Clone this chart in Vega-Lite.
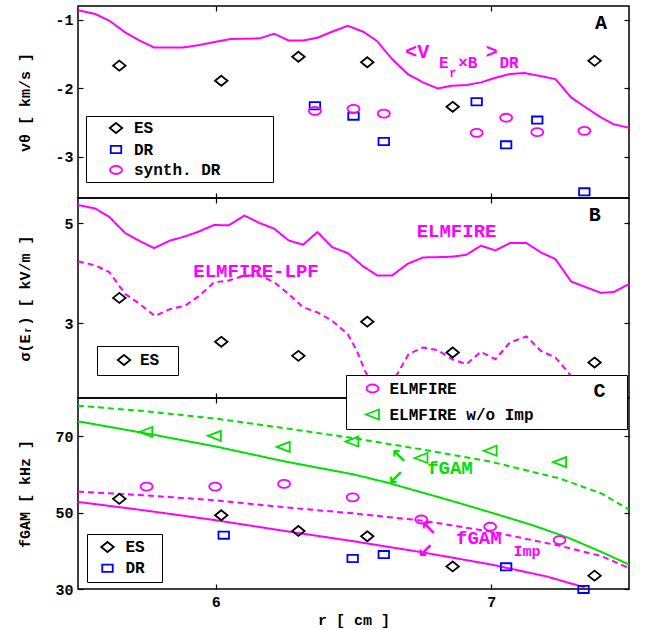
{
"$schema": "https://vega.github.io/schema/vega-lite/v6.json",
"padding": {"left": 16, "top": 4, "right": 4, "bottom": 2},
"spacing": 0,
"bounds": "flush",
"config": {
  "view": {"stroke": "black", "strokeWidth": 1.5},
  "font": "Liberation Mono",
  "axis": {"domain": false, "grid": false, "tickSize": -5, "tickColor": "black", "tickWidth": 1.2,
    "labelFont": "Liberation Mono", "labelFontWeight": "bold", "labelFontSize": 15, "labelColor": "black", "labelPadding": 10,
    "titleFont": "Liberation Mono", "titleFontWeight": "bold", "titleFontSize": 15, "titleColor": "black"},
  "legend": {"labelFont": "Liberation Mono", "labelFontWeight": "bold", "labelFontSize": 16, "labelColor": "black",
    "strokeColor": "black", "fillColor": "white", "symbolSize": 100, "symbolStrokeWidth": 1.8, "orient": "none"}
},
"resolve": {"scale": {"color": "independent", "shape": "independent", "strokeDash": "independent", "x": "independent", "y": "independent"}},
"vconcat": [
{
  "width": 551, "height": 192,
  "resolve": {"axis": {"x": "independent", "y": "independent"}},
  "layer": [
    {
      "data": {"values": [
        {"r":5.5,"v":-0.86},{"r":5.563,"v":-0.917},{"r":5.614,"v":-1.015},{"r":5.671,"v":-1.184},{"r":5.724,"v":-1.306},{"r":5.776,"v":-1.404},{"r":5.881,"v":-1.404},{"r":5.941,"v":-1.369},{"r":6.001,"v":-1.321},{"r":6.054,"v":-1.282},{"r":6.159,"v":-1.272},{"r":6.212,"v":-1.204},{"r":6.264,"v":-1.302},{"r":6.317,"v":-1.302},{"r":6.369,"v":-1.263},{"r":6.422,"v":-1.175},{"r":6.479,"v":-1.088},{"r":6.535,"v":-1.175},{"r":6.584,"v":-1.306},{"r":6.640,"v":-1.574},{"r":6.697,"v":-1.793},{"r":6.752,"v":-1.914},{"r":6.805,"v":-2.002},{"r":6.857,"v":-1.963},{"r":6.910,"v":-1.953},{"r":6.963,"v":-1.914},{"r":7.015,"v":-1.846},{"r":7.068,"v":-1.793},{"r":7.120,"v":-1.778},{"r":7.173,"v":-1.817},{"r":7.233,"v":-1.866},{"r":7.290,"v":-2.133},{"r":7.338,"v":-2.265},{"r":7.398,"v":-2.425},{"r":7.443,"v":-2.523},{"r":7.5,"v":-2.575}
      ]},
      "mark": {"type": "line", "color": "#ff00ff", "strokeWidth": 2, "clip": true},
      "encoding": {
        "x": {"field": "r", "type": "quantitative", "scale": {"domain": [5.5, 7.5], "nice": false, "zero": false}, "axis": {"orient": "top", "values": [6, 7], "labels": false, "title": null}},
        "y": {"field": "v", "type": "quantitative", "scale": {"domain": [-3.6, -0.8], "nice": false, "zero": false}, "axis": {"orient": "right", "values": [-3, -2, -1], "labels": false, "title": null}}
      }
    },
    {
      "data": {"values": [
        {"series":"ES","r":5.65,"v":-1.67},{"series":"ES","r":6.02,"v":-1.89},{"series":"ES","r":6.30,"v":-1.54},{"series":"ES","r":6.55,"v":-1.62},{"series":"ES","r":6.86,"v":-2.27},{"series":"ES","r":7.375,"v":-1.60},
        {"series":"DR","r":6.36,"v":-2.255},{"series":"DR","r":6.50,"v":-2.406},{"series":"DR","r":6.61,"v":-2.775},{"series":"DR","r":6.947,"v":-2.197},{"series":"DR","r":7.054,"v":-2.825},{"series":"DR","r":7.167,"v":-2.464},{"series":"DR","r":7.338,"v":-3.51},
        {"series":"synth. DR","r":6.36,"v":-2.33},{"series":"synth. DR","r":6.50,"v":-2.30},{"series":"synth. DR","r":6.61,"v":-2.37},{"series":"synth. DR","r":6.947,"v":-2.65},{"series":"synth. DR","r":7.054,"v":-2.43},{"series":"synth. DR","r":7.167,"v":-2.64},{"series":"synth. DR","r":7.338,"v":-2.62}
      ]},
      "mark": {"type": "point", "filled": false, "size": 100, "strokeWidth": 1.8, "opacity": 1},
      "encoding": {
        "x": {"field": "r", "type": "quantitative", "scale": {"domain": [5.5, 7.5], "nice": false, "zero": false}, "axis": {"orient": "bottom", "values": [6, 7], "labels": false, "title": null}},
        "y": {"field": "v", "type": "quantitative", "scale": {"domain": [-3.6, -0.8], "nice": false, "zero": false}, "axis": {"orient": "left", "values": [-3, -2, -1], "labelExpr": "'' + datum.value", "title": "vθ [ km/s ]", "titleX": -46}},
        "color": {"field": "series", "type": "nominal", "scale": {"domain": ["ES", "DR", "synth. DR"], "range": ["#000000", "#0000ff", "#ff00ff"]},
          "legend": {"title": null, "orient": "none", "legendX": 8, "legendY": 110, "padding": 4, "rowPadding": 4.5, "symbolOffset": 18, "labelOffset": 10, "labelExpr": "datum.label + '\u2800\u2800\u2800\u2800'"}},
        "shape": {"field": "series", "type": "nominal", "scale": {"domain": ["ES", "DR", "synth. DR"], "range": ["M0,-1L1.25,0L0,1L-1.25,0Z", "M-1.05,-0.72H1.05V0.72H-1.05Z", "M-1.2,0A1.2,0.8,0,1,0,1.2,0A1.2,0.8,0,1,0,-1.2,0Z"]},
          "legend": {"title": null, "orient": "none", "legendX": 8, "legendY": 110, "padding": 4, "rowPadding": 4.5, "symbolOffset": 18, "labelOffset": 10, "labelExpr": "datum.label + '\u2800\u2800\u2800\u2800'"}}
      }
    },
    {
      "data": {"values": [{"r": 7.398, "v": -1.052, "t": "A"}]},
      "mark": {"type": "text", "fontSize": 20, "fontWeight": "bold", "font": "Liberation Mono", "color": "black", "align": "center", "baseline": "middle"},
      "encoding": {"x": {"field": "r", "type": "quantitative", "axis": null}, "y": {"field": "v", "type": "quantitative", "axis": null}, "text": {"field": "t"}}
    },
    {
      "data": {"values": [{"r": 6.688, "v": -1.466, "t": "<V"}, {"r": 6.98, "v": -1.466, "t": ">"}]},
      "mark": {"type": "text", "fontSize": 20, "fontWeight": "bold", "font": "Liberation Mono", "color": "#ff00ff", "align": "left", "baseline": "middle"},
      "encoding": {"x": {"field": "r", "type": "quantitative", "axis": null}, "y": {"field": "v", "type": "quantitative", "axis": null}, "text": {"field": "t"}}
    },
    {
      "data": {"values": [{"r": 6.81, "v": -1.636, "t": "E"}, {"r": 6.88, "v": -1.631, "t": "×B"}, {"r": 7.03, "v": -1.631, "t": "DR"}]},
      "mark": {"type": "text", "fontSize": 16, "fontWeight": "bold", "font": "Liberation Mono", "color": "#ff00ff", "align": "left", "baseline": "middle"},
      "encoding": {"x": {"field": "r", "type": "quantitative", "axis": null}, "y": {"field": "v", "type": "quantitative", "axis": null}, "text": {"field": "t"}}
    },
    {
      "data": {"values": [{"r": 6.848, "v": -1.781, "t": "r"}]},
      "mark": {"type": "text", "fontSize": 12, "fontWeight": "bold", "font": "Liberation Mono", "color": "#ff00ff", "align": "left", "baseline": "middle"},
      "encoding": {"x": {"field": "r", "type": "quantitative", "axis": null}, "y": {"field": "v", "type": "quantitative", "axis": null}, "text": {"field": "t"}}
    }
  ]
},
{
  "width": 551, "height": 200,
  "resolve": {"axis": {"x": "independent", "y": "independent"}},
  "layer": [
    {
      "data": {"values": [
        {"series":"ELMFIRE","r":5.5,"s":5.36},{"series":"ELMFIRE","r":5.563,"s":5.289},{"series":"ELMFIRE","r":5.614,"s":5.12},{"series":"ELMFIRE","r":5.671,"s":4.799},{"series":"ELMFIRE","r":5.724,"s":4.639},{"series":"ELMFIRE","r":5.776,"s":4.498},{"series":"ELMFIRE","r":5.836,"s":4.653},{"series":"ELMFIRE","r":5.881,"s":4.719},{"series":"ELMFIRE","r":5.934,"s":4.819},{"series":"ELMFIRE","r":5.994,"s":4.96},{"series":"ELMFIRE","r":6.047,"s":4.954},{"series":"ELMFIRE","r":6.104,"s":5.149},{"series":"ELMFIRE","r":6.159,"s":5.0},{"series":"ELMFIRE","r":6.212,"s":4.887},{"series":"ELMFIRE","r":6.264,"s":4.653},{"series":"ELMFIRE","r":6.317,"s":4.566},{"series":"ELMFIRE","r":6.369,"s":4.819},{"series":"ELMFIRE","r":6.422,"s":4.518},{"series":"ELMFIRE","r":6.479,"s":4.398},{"series":"ELMFIRE","r":6.535,"s":4.131},{"series":"ELMFIRE","r":6.587,"s":3.95},{"series":"ELMFIRE","r":6.640,"s":3.95},{"series":"ELMFIRE","r":6.697,"s":4.185},{"series":"ELMFIRE","r":6.752,"s":4.311},{"series":"ELMFIRE","r":6.805,"s":4.317},{"series":"ELMFIRE","r":6.857,"s":4.325},{"series":"ELMFIRE","r":6.910,"s":4.365},{"series":"ELMFIRE","r":6.962,"s":4.546},{"series":"ELMFIRE","r":7.015,"s":4.452},{"series":"ELMFIRE","r":7.068,"s":4.598},{"series":"ELMFIRE","r":7.128,"s":4.598},{"series":"ELMFIRE","r":7.180,"s":4.412},{"series":"ELMFIRE","r":7.233,"s":4.277},{"series":"ELMFIRE","r":7.290,"s":3.829},{"series":"ELMFIRE","r":7.338,"s":3.729},{"series":"ELMFIRE","r":7.398,"s":3.602},{"series":"ELMFIRE","r":7.446,"s":3.622},{"series":"ELMFIRE","r":7.5,"s":3.78},
        {"series":"ELMFIRE-LPF","r":5.5,"s":4.235},{"series":"ELMFIRE-LPF","r":5.563,"s":4.151},{"series":"ELMFIRE-LPF","r":5.614,"s":4.016},{"series":"ELMFIRE-LPF","r":5.671,"s":3.582},{"series":"ELMFIRE-LPF","r":5.724,"s":3.381},{"series":"ELMFIRE-LPF","r":5.779,"s":3.141},{"series":"ELMFIRE-LPF","r":5.836,"s":3.281},{"series":"ELMFIRE-LPF","r":5.889,"s":3.347},{"series":"ELMFIRE-LPF","r":5.941,"s":3.548},{"series":"ELMFIRE-LPF","r":5.994,"s":3.815},{"series":"ELMFIRE-LPF","r":6.047,"s":3.849},{"series":"ELMFIRE-LPF","r":6.104,"s":3.95},{"series":"ELMFIRE-LPF","r":6.159,"s":3.95},{"series":"ELMFIRE-LPF","r":6.212,"s":3.815},{"series":"ELMFIRE-LPF","r":6.264,"s":3.582},{"series":"ELMFIRE-LPF","r":6.317,"s":3.313},{"series":"ELMFIRE-LPF","r":6.369,"s":3.213},{"series":"ELMFIRE-LPF","r":6.422,"s":3.046},{"series":"ELMFIRE-LPF","r":6.479,"s":2.779},{"series":"ELMFIRE-LPF","r":6.512,"s":2.444},{"series":"ELMFIRE-LPF","r":6.542,"s":2.042},{"series":"ELMFIRE-LPF","r":6.580,"s":1.64},{"series":"ELMFIRE-LPF","r":6.617,"s":1.675},{"series":"ELMFIRE-LPF","r":6.655,"s":1.942},{"series":"ELMFIRE-LPF","r":6.700,"s":2.378},{"series":"ELMFIRE-LPF","r":6.752,"s":2.51},{"series":"ELMFIRE-LPF","r":6.805,"s":2.458},{"series":"ELMFIRE-LPF","r":6.857,"s":2.277},{"series":"ELMFIRE-LPF","r":6.910,"s":2.177},{"series":"ELMFIRE-LPF","r":6.962,"s":2.424},{"series":"ELMFIRE-LPF","r":7.015,"s":2.277},{"series":"ELMFIRE-LPF","r":7.068,"s":2.61},{"series":"ELMFIRE-LPF","r":7.128,"s":2.731},{"series":"ELMFIRE-LPF","r":7.180,"s":2.444},{"series":"ELMFIRE-LPF","r":7.233,"s":2.309},{"series":"ELMFIRE-LPF","r":7.290,"s":1.942},{"series":"ELMFIRE-LPF","r":7.338,"s":1.741},{"series":"ELMFIRE-LPF","r":7.398,"s":1.64},{"series":"ELMFIRE-LPF","r":7.5,"s":1.574}
      ]},
      "mark": {"type": "line", "color": "#ff00ff", "strokeWidth": 2, "clip": true},
      "encoding": {
        "x": {"field": "r", "type": "quantitative", "scale": {"domain": [5.5, 7.5], "nice": false, "zero": false}, "axis": {"orient": "top", "values": [6, 7], "labels": false, "title": null}},
        "y": {"field": "s", "type": "quantitative", "scale": {"domain": [1.5, 5.5], "nice": false, "zero": false}, "axis": {"orient": "right", "values": [3, 5], "labels": false, "title": null}},
        "strokeDash": {"field": "series", "type": "nominal", "scale": {"domain": ["ELMFIRE", "ELMFIRE-LPF"], "range": [[1, 0], [6, 4]]}, "legend": null}
      }
    },
    {
      "data": {"values": [
        {"series":"ES","r":5.65,"s":3.502},{"series":"ES","r":6.02,"s":2.624},{"series":"ES","r":6.30,"s":2.343},{"series":"ES","r":6.55,"s":3.026},{"series":"ES","r":6.86,"s":2.41},{"series":"ES","r":7.375,"s":2.209}
      ]},
      "mark": {"type": "point", "filled": false, "size": 100, "strokeWidth": 1.8, "opacity": 1},
      "encoding": {
        "x": {"field": "r", "type": "quantitative", "scale": {"domain": [5.5, 7.5], "nice": false, "zero": false}, "axis": {"orient": "bottom", "values": [6, 7], "labels": false, "title": null}},
        "y": {"field": "s", "type": "quantitative", "scale": {"domain": [1.5, 5.5], "nice": false, "zero": false}, "axis": {"orient": "left", "values": [3, 5], "labelExpr": "'' + datum.value", "title": "σ(Eᵣ) [ kV/m ]", "titleX": -46}},
        "color": {"field": "series", "type": "nominal", "scale": {"domain": ["ES"], "range": ["#000000"]},
          "legend": {"title": null, "orient": "none", "legendX": 19, "legendY": 148, "padding": 6, "symbolOffset": 13, "labelOffset": 8, "labelExpr": "datum.label + '\u2800'"}},
        "shape": {"field": "series", "type": "nominal", "scale": {"domain": ["ES"], "range": ["M0,-1L1.25,0L0,1L-1.25,0Z"]},
          "legend": {"title": null, "orient": "none", "legendX": 19, "legendY": 148, "padding": 6, "symbolOffset": 13, "labelOffset": 8, "labelExpr": "datum.label + '\u2800'"}}
      }
    },
    {
      "data": {"values": [{"r": 7.376, "s": 5.16, "t": "B"}]},
      "mark": {"type": "text", "fontSize": 20, "fontWeight": "bold", "font": "Liberation Mono", "color": "black", "align": "center", "baseline": "middle"},
      "encoding": {"x": {"field": "r", "type": "quantitative", "axis": null}, "y": {"field": "s", "type": "quantitative", "axis": null}, "text": {"field": "t"}}
    },
    {
      "data": {"values": [{"r": 6.874, "s": 4.84, "t": "ELMFIRE"}, {"r": 6.146, "s": 4.046, "t": "ELMFIRE-LPF"}]},
      "mark": {"type": "text", "fontSize": 19, "fontWeight": "bold", "font": "Liberation Mono", "color": "#ff00ff", "align": "center", "baseline": "middle"},
      "encoding": {"x": {"field": "r", "type": "quantitative", "axis": null}, "y": {"field": "s", "type": "quantitative", "axis": null}, "text": {"field": "t"}}
    }
  ]
},
{
  "width": 551, "height": 191,
  "resolve": {"axis": {"x": "independent", "y": "independent"}, "scale": {"color": "independent", "shape": "independent", "strokeDash": "independent"}},
  "layer": [
    {
      "data": {"values": [
        {"series":"fGAM w/o Imp, upper","r":5.5,"f":78.0},{"series":"fGAM w/o Imp, upper","r":5.75,"f":76.5},{"series":"fGAM w/o Imp, upper","r":6.0,"f":74.6},{"series":"fGAM w/o Imp, upper","r":6.25,"f":72.1},{"series":"fGAM w/o Imp, upper","r":6.5,"f":69.5},{"series":"fGAM w/o Imp, upper","r":6.75,"f":66.5},{"series":"fGAM w/o Imp, upper","r":7.0,"f":63.3},{"series":"fGAM w/o Imp, upper","r":7.25,"f":58.9},{"series":"fGAM w/o Imp, upper","r":7.4,"f":55.0},{"series":"fGAM w/o Imp, upper","r":7.5,"f":50.8},
        {"series":"fGAM w/o Imp, lower","r":5.5,"f":73.9},{"series":"fGAM w/o Imp, lower","r":5.75,"f":70.7},{"series":"fGAM w/o Imp, lower","r":6.0,"f":67.3},{"series":"fGAM w/o Imp, lower","r":6.25,"f":63.4},{"series":"fGAM w/o Imp, lower","r":6.5,"f":60.0},{"series":"fGAM w/o Imp, lower","r":6.62,"f":57.9},{"series":"fGAM w/o Imp, lower","r":6.85,"f":53.2},{"series":"fGAM w/o Imp, lower","r":7.0,"f":50.0},{"series":"fGAM w/o Imp, lower","r":7.15,"f":46.7},{"series":"fGAM w/o Imp, lower","r":7.28,"f":43.4},{"series":"fGAM w/o Imp, lower","r":7.4,"f":39.7},{"series":"fGAM w/o Imp, lower","r":7.5,"f":36.4},
        {"series":"fGAM Imp, upper","r":5.5,"f":55.5},{"series":"fGAM Imp, upper","r":5.75,"f":54.5},{"series":"fGAM Imp, upper","r":6.0,"f":53.2},{"series":"fGAM Imp, upper","r":6.25,"f":51.4},{"series":"fGAM Imp, upper","r":6.5,"f":49.8},{"series":"fGAM Imp, upper","r":6.75,"f":47.9},{"series":"fGAM Imp, upper","r":7.0,"f":45.0},{"series":"fGAM Imp, upper","r":7.25,"f":41.3},{"series":"fGAM Imp, upper","r":7.4,"f":38.6},{"series":"fGAM Imp, upper","r":7.5,"f":35.5},
        {"series":"fGAM Imp, lower","r":5.5,"f":52.8},{"series":"fGAM Imp, lower","r":5.75,"f":50.5},{"series":"fGAM Imp, lower","r":6.0,"f":48.0},{"series":"fGAM Imp, lower","r":6.25,"f":45.2},{"series":"fGAM Imp, lower","r":6.5,"f":42.5},{"series":"fGAM Imp, lower","r":6.75,"f":39.6},{"series":"fGAM Imp, lower","r":7.0,"f":36.4},{"series":"fGAM Imp, lower","r":7.2,"f":33.3},{"series":"fGAM Imp, lower","r":7.34,"f":30.4}
      ]},
      "mark": {"type": "line", "strokeWidth": 2, "clip": true},
      "encoding": {
        "x": {"field": "r", "type": "quantitative", "scale": {"domain": [5.5, 7.5], "nice": false, "zero": false}, "axis": {"orient": "top", "values": [6, 7], "labels": false, "title": null}},
        "y": {"field": "f", "type": "quantitative", "scale": {"domain": [30, 80], "nice": false, "zero": false}, "axis": {"orient": "right", "values": [30, 50, 70], "labels": false, "title": null}},
        "color": {"field": "series", "type": "nominal", "scale": {"domain": ["fGAM w/o Imp, upper", "fGAM w/o Imp, lower", "fGAM Imp, upper", "fGAM Imp, lower"], "range": ["#00e000", "#00e000", "#ff00ff", "#ff00ff"]}, "legend": null},
        "strokeDash": {"field": "series", "type": "nominal", "scale": {"domain": ["fGAM w/o Imp, upper", "fGAM w/o Imp, lower", "fGAM Imp, upper", "fGAM Imp, lower"], "range": [[6, 4], [1, 0], [6, 4], [1, 0]]}, "legend": null}
      }
    },
    {
      "data": {"values": [
        {"series":"ES","r":5.65,"f":53.6},{"series":"ES","r":6.02,"f":49.3},{"series":"ES","r":6.30,"f":45.2},{"series":"ES","r":6.55,"f":43.8},{"series":"ES","r":6.86,"f":35.9},{"series":"ES","r":7.375,"f":33.5},
        {"series":"DR","r":6.029,"f":44.1},{"series":"DR","r":6.497,"f":38.0},{"series":"DR","r":6.610,"f":39.0},{"series":"DR","r":7.054,"f":35.8},{"series":"DR","r":7.335,"f":29.9}
      ]},
      "mark": {"type": "point", "filled": false, "size": 100, "strokeWidth": 1.8, "opacity": 1, "clip": false},
      "encoding": {
        "x": {"field": "r", "type": "quantitative", "scale": {"domain": [5.5, 7.5], "nice": false, "zero": false}, "axis": {"orient": "bottom", "values": [6, 7], "labelExpr": "'' + datum.value", "title": "r [ cm ]", "titlePadding": 3}},
        "y": {"field": "f", "type": "quantitative", "scale": {"domain": [30, 80], "nice": false, "zero": false}, "axis": {"orient": "left", "values": [30, 50, 70], "labelExpr": "'' + datum.value", "title": "fGAM [ kHz ]", "titleX": -46}},
        "color": {"field": "series", "type": "nominal", "scale": {"domain": ["ES", "DR"], "range": ["#000000", "#0000ff"]},
          "legend": {"title": null, "orient": "none", "legendX": 9, "legendY": 136, "padding": 5, "rowPadding": 4.3, "symbolOffset": 7.5, "labelOffset": 10, "labelExpr": "datum.label + '\u2800'"}},
        "shape": {"field": "series", "type": "nominal", "scale": {"domain": ["ES", "DR"], "range": ["M0,-1L1.25,0L0,1L-1.25,0Z", "M-1.05,-0.72H1.05V0.72H-1.05Z"]},
          "legend": {"title": null, "orient": "none", "legendX": 9, "legendY": 136, "padding": 5, "rowPadding": 4.3, "symbolOffset": 7.5, "labelOffset": 10, "labelExpr": "datum.label + '\u2800'"}}
      }
    },
    {
      "data": {"values": [
        {"series":"ELMFIRE","r":5.749,"f":56.8},{"series":"ELMFIRE","r":5.998,"f":56.8},{"series":"ELMFIRE","r":6.248,"f":57.5},{"series":"ELMFIRE","r":6.497,"f":54.0},{"series":"ELMFIRE","r":6.746,"f":48.2},{"series":"ELMFIRE","r":6.996,"f":46.3},{"series":"ELMFIRE","r":7.248,"f":42.8},
        {"series":"ELMFIRE w/o Imp","r":5.746,"f":71.1},{"series":"ELMFIRE w/o Imp","r":5.995,"f":70.1},{"series":"ELMFIRE w/o Imp","r":6.245,"f":67.2},{"series":"ELMFIRE w/o Imp","r":6.494,"f":68.6},{"series":"ELMFIRE w/o Imp","r":6.745,"f":64.3},{"series":"ELMFIRE w/o Imp","r":6.996,"f":66.2},{"series":"ELMFIRE w/o Imp","r":7.248,"f":63.2}
      ]},
      "mark": {"type": "point", "filled": false, "size": 100, "strokeWidth": 1.8, "opacity": 1},
      "encoding": {
        "x": {"field": "r", "type": "quantitative", "axis": null},
        "y": {"field": "f", "type": "quantitative", "axis": null},
        "color": {"field": "series", "type": "nominal", "scale": {"domain": ["ELMFIRE", "ELMFIRE w/o Imp"], "range": ["#ff00ff", "#00e000"]},
          "legend": {"title": "C\u2800", "titleOrient": "right", "titleFontSize": 20, "titleFont": "Liberation Mono", "titleFontWeight": "bold", "titleColor": "black", "titlePadding": 60, "titleAnchor": "start", "titleBaseline": "top", "orient": "none", "legendX": 268, "legendY": -23, "padding": 5.5, "rowPadding": 9, "symbolOffset": 13, "labelOffset": 9}},
        "shape": {"field": "series", "type": "nominal", "scale": {"domain": ["ELMFIRE", "ELMFIRE w/o Imp"], "range": ["M-1.2,0A1.2,0.8,0,1,0,1.2,0A1.2,0.8,0,1,0,-1.2,0Z", "M-1.3,0L1.3,-1L1.3,1Z"]},
          "legend": {"title": "C\u2800", "titleOrient": "right", "titleFontSize": 20, "titleFont": "Liberation Mono", "titleFontWeight": "bold", "titleColor": "black", "titlePadding": 60, "titleAnchor": "start", "titleBaseline": "top", "orient": "none", "legendX": 268, "legendY": -23, "padding": 5.5, "rowPadding": 9, "symbolOffset": 13, "labelOffset": 9}}
      }
    },
    {
      "data": {"values": [{"r": 6.85, "f": 61.6, "t": "fGAM"}]},
      "mark": {"type": "text", "fontSize": 19, "fontWeight": "bold", "font": "Liberation Mono", "color": "#00e000", "align": "center", "baseline": "middle"},
      "encoding": {"x": {"field": "r", "type": "quantitative", "axis": null}, "y": {"field": "f", "type": "quantitative", "axis": null}, "text": {"field": "t"}}
    },
    {
      "data": {"values": [{"r": 6.664, "f": 64.6, "t": "↖"}, {"r": 6.652, "f": 59.0, "t": "↙"}]},
      "mark": {"type": "text", "fontSize": 20, "fontWeight": "bold", "font": "DejaVu Sans", "color": "#00e000", "align": "center", "baseline": "middle"},
      "encoding": {"x": {"field": "r", "type": "quantitative", "axis": null}, "y": {"field": "f", "type": "quantitative", "axis": null}, "text": {"field": "t"}}
    },
    {
      "data": {"values": [{"r": 6.955, "f": 43.3, "t": "fGAM"}]},
      "mark": {"type": "text", "fontSize": 19, "fontWeight": "bold", "font": "Liberation Mono", "color": "#ff00ff", "align": "center", "baseline": "middle"},
      "encoding": {"x": {"field": "r", "type": "quantitative", "axis": null}, "y": {"field": "f", "type": "quantitative", "axis": null}, "text": {"field": "t"}}
    },
    {
      "data": {"values": [{"r": 7.13, "f": 40.0, "t": "Imp"}]},
      "mark": {"type": "text", "fontSize": 15, "fontWeight": "bold", "font": "Liberation Mono", "color": "#ff00ff", "align": "center", "baseline": "middle"},
      "encoding": {"x": {"field": "r", "type": "quantitative", "axis": null}, "y": {"field": "f", "type": "quantitative", "axis": null}, "text": {"field": "t"}}
    },
    {
      "data": {"values": [{"r": 6.772, "f": 45.6, "t": "↖"}, {"r": 6.76, "f": 40.0, "t": "↙"}]},
      "mark": {"type": "text", "fontSize": 20, "fontWeight": "bold", "font": "DejaVu Sans", "color": "#ff00ff", "align": "center", "baseline": "middle"},
      "encoding": {"x": {"field": "r", "type": "quantitative", "axis": null}, "y": {"field": "f", "type": "quantitative", "axis": null}, "text": {"field": "t"}}
    }
  ]
}
]
}
